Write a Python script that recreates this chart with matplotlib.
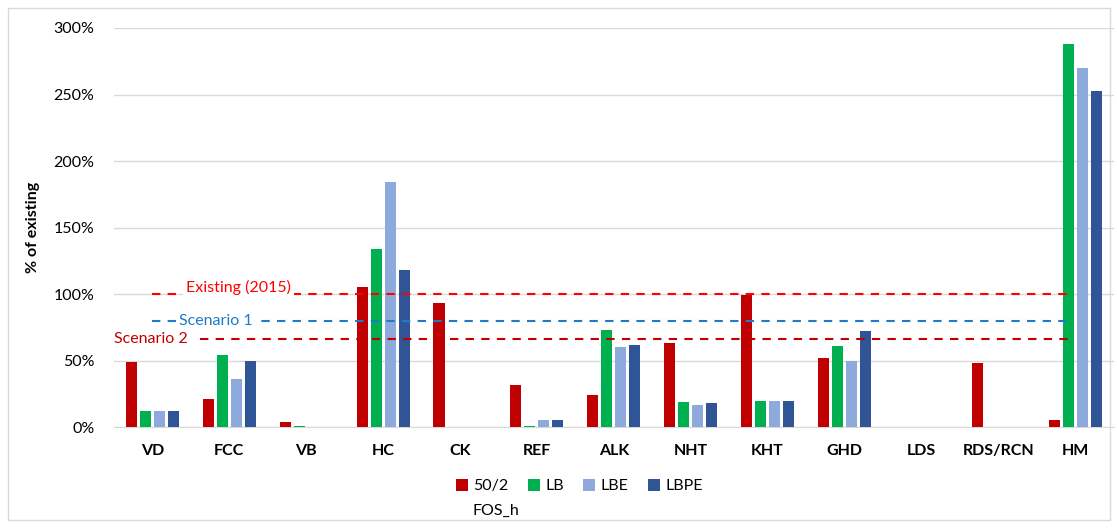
import numpy as np
import matplotlib.pyplot as plt
from matplotlib.patches import Rectangle

plt.rcParams['font.family'] = ['Lato', 'DejaVu Sans']

# Data
units = ["VD", "FCC", "VB", "HC", "CK", "REF", "ALK", "NHT", "KHT", "GHD", "LDS", "RDS/RCN", "HM"]
s_502 = [49, 21, 3.5, 105, 93, 32, 24, 63, 99, 52, 0, 48, 5]
s_lb = [12, 54, 0.5, 134, 0.4, 1, 73, 19, 20, 61, 0, 0.3, 288]
s_lbe = [12, 36, 0.3, 184, 0.3, 5, 60, 17, 20, 50, 0, 0.3, 270]
s_lbpe = [12, 50, 0.3, 118, 0.3, 5.5, 62, 18, 20, 72, 0, 0.3, 253]
series_names = ["50/2", "LB", "LBE", "LBPE"]
colors = ["#C00000", "#00B050", "#8EA9DB", "#2F5597"]

existing = 100
scen1 = 80
scen2 = 66

fig = plt.figure(figsize=(11.17, 5.28), dpi=100)
ax = fig.add_axes([0.102, 0.191, 0.895, 0.756])

x = np.arange(len(units))
w = 0.145
step = 0.182
for i, (vals, name, c) in enumerate(zip([s_502, s_lb, s_lbe, s_lbpe], series_names, colors)):
    ax.bar(x + (i - 1.5) * step, np.array(vals) / 100, width=w, color=c, label=name, zorder=3)

# reference lines
ax.hlines(existing / 100, -0.01, 11.94, colors="#FF0000", linestyles=(0, (4, 3.5)), lw=1.5, zorder=4)
ax.hlines(scen1 / 100, -0.01, 11.94, colors="#1F7BC8", linestyles=(0, (4, 3.5)), lw=1.5, zorder=4)
ax.hlines(scen2 / 100, 0.62, 11.94, colors="#C00000", linestyles=(0, (4, 3.5)), lw=1.5, zorder=4)
ax.text(1.12, existing / 100 + 0.05, "Existing (2015)", color="#FF0000", fontsize=11.5,
        ha="center", va="center", zorder=5,
        bbox=dict(facecolor="white", edgecolor="none", pad=2))
ax.text(0.82, scen1 / 100, "Scenario 1", color="#1F7BC8", fontsize=11.5,
        ha="center", va="center", zorder=5,
        bbox=dict(facecolor="white", edgecolor="none", pad=1))
ax.text(-0.02, scen2 / 100, "Scenario 2", color="#C00000", fontsize=11.5,
        ha="center", va="center", zorder=5, clip_on=False)

ax.set_xlim(-0.5, len(units) - 0.5)
ax.set_ylim(0, 3.0)
ticks = np.arange(0, 3.01, 0.5)
ax.set_yticks(ticks)
ax.set_yticklabels([f"{int(round(v * 100))}%" for v in ticks], fontsize=11.5)
ax.set_xticks(x)
ax.set_xticklabels(units, fontsize=11.5, fontweight="bold")
ax.tick_params(length=0, pad=12)
ax.tick_params(axis="y", pad=14)
ax.grid(axis="y", color="#D9D9D9", lw=1, zorder=0)
for s in ["top", "right", "left"]:
    ax.spines[s].set_visible(False)
ax.spines["bottom"].set_color("#D9D9D9")
ax.set_ylabel("% of existing", fontsize=11.5, fontweight="bold", labelpad=10)

fig.legend(loc="upper left", bbox_to_anchor=(456 / 1117, 1 - 479 / 528), ncol=4, frameon=False,
           fontsize=11.5, handlelength=0.75, handleheight=0.75, columnspacing=1.2,
           handletextpad=0.35, borderaxespad=0, borderpad=0)
fig.text(473 / 1117, 1 - 511 / 528, "FOS_h", fontsize=11.5, ha="left", va="center")

fig.patches.append(Rectangle((0.007, 0.015), 0.987, 0.97, transform=fig.transFigure,
                             fill=False, edgecolor="#D9D9D9", lw=1))

plt.savefig("out.png")
